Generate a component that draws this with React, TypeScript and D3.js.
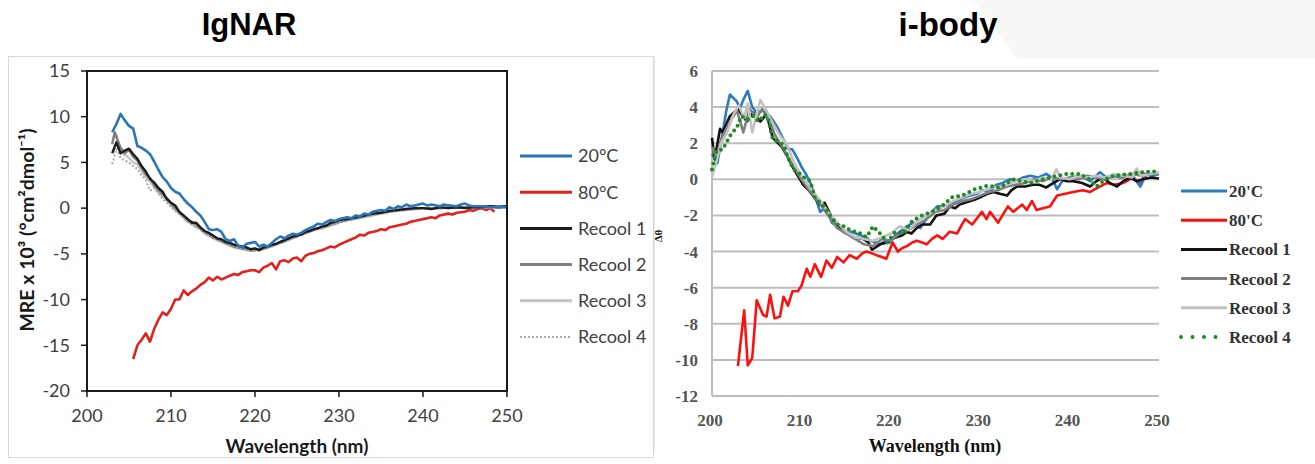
import React from "react";
import * as d3 from "d3";

// ---------- IgNAR (left) data: [wavelength nm, MRE x 10^3] ----------
const ignar20: [number, number][] = [[203,8.3],[203.5,9.2],[204,10.3],[204.5,9.6],[205,9.0],[205.5,8.7],[206,6.8],[206.5,6.6],[207,6.3],[207.5,5.9],[208,5.1],[208.5,4.2],[209,3.4],[209.5,2.9],[210,2.2],[210.5,1.8],[211,1.6],[211.5,1.0],[212,0.5],[212.5,0.1],[213,-0.4],[213.5,-0.8],[214,-1.5],[214.5,-2.3],[215,-2.4],[215.5,-2.3],[216,-2.6],[216.5,-3.4],[217,-3.6],[217.5,-3.4],[218,-4.1],[218.5,-4.3],[219,-3.9],[219.5,-3.8],[220,-3.7],[220.5,-4.2],[221,-4.0],[221.5,-4.2],[222,-3.8],[222.5,-3.4],[223,-3.1],[223.5,-3.3],[224,-3.0],[224.5,-2.8],[225,-2.9],[225.5,-2.7],[226,-2.4],[226.5,-2.2],[227,-2.0],[227.5,-1.7],[228,-1.8],[228.5,-1.5],[229,-1.3],[229.5,-1.4],[230,-1.2],[231,-1.0],[231.5,-1.1],[232,-0.8],[232.5,-0.9],[233,-0.6],[233.5,-0.7],[234,-0.4],[235,-0.2],[235.5,-0.3],[236,0.1],[236.5,-0.1],[237,0.2],[237.5,0.1],[238,0.4],[238.5,0.2],[239,0.3],[240,0.5],[240.5,0.3],[241,0.4],[242,0.2],[242.5,0.4],[243,0.3],[244,0.2],[244.5,0.4],[245,0.5],[245.5,0.3],[246,0.2],[247,0.2],[248,0.1],[249,0.1],[250,0.1]];
const ignar80: [number, number][] = [[205.5,-16.5],[206,-15.0],[206.5,-14.4],[207,-13.7],[207.5,-14.6],[208,-13.2],[208.5,-12.2],[209,-11.4],[209.5,-11.7],[210,-11.0],[210.5,-10.0],[211,-10.0],[211.5,-9.0],[212,-9.5],[212.5,-9.1],[213,-8.8],[213.5,-8.4],[214,-8.1],[214.5,-7.6],[215,-7.9],[215.5,-7.5],[216,-7.8],[216.5,-7.6],[217,-7.4],[217.5,-7.2],[218,-7.3],[218.5,-7.0],[219,-6.9],[219.5,-6.8],[220,-6.8],[220.5,-7.0],[221,-6.5],[221.5,-6.3],[222,-6.0],[222.5,-6.7],[223,-5.8],[223.5,-5.7],[224,-5.9],[224.5,-5.5],[225,-5.4],[225.5,-5.8],[226,-5.2],[226.5,-5.0],[227,-4.9],[227.5,-4.7],[228,-4.6],[228.5,-4.4],[229,-4.2],[229.5,-4.3],[230,-4.0],[230.5,-3.8],[231,-3.6],[231.5,-3.4],[232,-3.2],[232.5,-2.9],[233,-3.0],[233.5,-2.7],[234,-2.6],[234.5,-2.5],[235,-2.3],[235.5,-2.4],[236,-2.1],[236.5,-2.0],[237,-1.9],[237.5,-1.8],[238,-1.7],[238.5,-1.5],[239,-1.4],[239.5,-1.3],[240,-1.2],[241,-1.0],[241.5,-1.1],[242,-0.8],[243,-0.6],[243.5,-0.7],[244,-0.5],[245,-0.4],[245.5,-0.2],[246,-0.3],[246.5,-0.1],[247,0.0],[247.5,-0.2],[248,0.0],[248.5,-0.4]];
const ignarR1: [number, number][] = [[203,6.0],[203.5,7.2],[204,6.0],[204.5,6.3],[205,6.5],[205.5,5.9],[206,5.4],[206.5,4.6],[207,4.0],[207.5,3.2],[208,2.8],[208.5,2.2],[209,1.8],[209.5,1.0],[210,0.6],[210.5,0.3],[211,-0.4],[211.5,-0.8],[212,-1.2],[212.5,-1.6],[213,-1.6],[213.5,-2.1],[214,-2.5],[214.5,-2.7],[215,-3.0],[215.5,-3.3],[216,-3.4],[216.5,-3.7],[217,-3.8],[217.5,-4.0],[218,-4.1],[218.5,-4.2],[219,-4.3],[219.5,-4.5],[220,-4.4],[220.5,-4.6],[221,-4.3],[221.5,-4.2],[222,-4.0],[222.5,-3.9],[223,-3.7],[223.5,-3.5],[224,-3.3],[224.5,-3.1],[225,-3.0],[225.5,-2.9],[226,-2.6],[226.5,-2.5],[227,-2.3],[227.5,-2.2],[228,-2.0],[228.5,-1.9],[229,-1.6],[229.5,-1.5],[230,-1.3],[231,-1.2],[232,-1.0],[233,-0.8],[234,-0.6],[235,-0.5],[236,-0.3],[237,-0.2],[238,-0.1],[239,0.0],[240,0.0],[241,-0.1],[242,0.1],[243,0.0],[244,0.1],[245,0.0],[246,0.1],[247,0.1],[248,0.2],[249,0.1],[250,0.2]];
const ignarR2: [number, number][] = [[203,7.0],[203.3,8.3],[204,6.6],[204.5,6.0],[205,6.4],[205.5,5.6],[206,5.2],[206.5,4.4],[207,3.7],[207.5,3.3],[208,2.5],[208.5,2.0],[209,1.5],[209.5,1.1],[210,0.5],[210.5,0.0],[211,-0.5],[211.5,-0.9],[212,-1.4],[212.5,-1.5],[213,-1.9],[213.5,-2.2],[214,-2.6],[214.5,-2.9],[215,-3.2],[215.5,-3.4],[216,-3.6],[216.5,-3.8],[217,-4.0],[217.5,-4.2],[218,-4.3],[218.5,-4.4],[219,-4.5],[219.5,-4.6],[220,-4.6],[220.5,-4.5],[221,-4.4],[221.5,-4.3],[222,-4.1],[222.5,-3.9],[223,-3.8],[223.5,-3.6],[224,-3.4],[224.5,-3.2],[225,-3.1],[225.5,-2.8],[226,-2.7],[226.5,-2.5],[227,-2.4],[227.5,-2.2],[228,-2.1],[229,-1.8],[230,-1.5],[231,-1.3],[232,-1.1],[233,-0.9],[234,-0.7],[235,-0.5],[236,-0.4],[237,-0.2],[238,-0.1],[239,-0.1],[240,0.0],[242,0.0],[244,0.1],[246,0.1],[248,0.2],[250,0.2]];
const ignarR3: [number, number][] = [[203,7.5],[203.5,8.0],[204,6.2],[204.5,5.8],[205,5.5],[205.5,5.0],[206,4.8],[206.5,4.1],[207,3.4],[207.5,2.9],[208,2.3],[208.5,1.7],[209,1.3],[209.5,0.8],[210,0.3],[210.5,-0.2],[211,-0.6],[211.5,-1.0],[212,-1.5],[212.5,-1.8],[213,-2.1],[213.5,-2.3],[214,-2.8],[214.5,-3.0],[215,-3.3],[215.5,-3.5],[216,-3.7],[216.5,-3.9],[217,-4.1],[217.5,-4.3],[218,-4.4],[218.5,-4.5],[219,-4.6],[219.5,-4.7],[220,-4.6],[220.5,-4.6],[221,-4.5],[221.5,-4.3],[222,-4.2],[222.5,-4.0],[223,-3.8],[223.5,-3.7],[224,-3.5],[224.5,-3.3],[225,-3.1],[225.5,-2.9],[226,-2.8],[226.5,-2.6],[227,-2.4],[227.5,-2.3],[228,-2.2],[229,-1.9],[230,-1.6],[231,-1.3],[232,-1.2],[233,-1.0],[234,-0.8],[235,-0.6],[236,-0.4],[237,-0.3],[238,-0.2],[239,-0.1],[240,0.0],[242,0.0],[244,0.0],[246,0.1],[248,0.1],[250,0.1]];
const ignarR4: [number, number][] = [[203,4.8],[203.5,6.5],[204,5.5],[204.5,5.2],[205,5.0],[205.5,4.6],[206,4.3],[206.5,3.6],[207,3.1],[207.5,1.9],[208,2.2],[208.5,1.6],[209,1.0],[209.5,0.6],[210,0.1],[210.5,-0.3],[211,-0.7],[211.5,-1.1],[212,-1.5],[212.5,-1.8],[213,-2.0],[213.5,-2.4],[214,-2.7],[214.5,-3.0],[215,-3.2],[215.5,-3.5],[216,-3.7],[216.5,-3.9],[217,-4.1],[217.5,-4.2],[218,-4.4],[218.5,-4.5],[219,-4.5],[219.5,-4.6],[220,-4.6],[220.5,-4.5],[221,-4.4],[221.5,-4.3],[222,-4.1],[222.5,-4.0],[223,-3.8],[223.5,-3.6],[224,-3.4],[224.5,-3.2],[225,-3.0],[225.5,-2.9],[226,-2.7],[226.5,-2.6],[227,-2.4],[227.5,-2.2],[228,-2.1],[229,-1.8],[230,-1.5],[231,-1.3],[232,-1.1],[233,-0.9],[234,-0.7],[235,-0.5],[236,-0.4],[237,-0.3],[238,-0.2],[239,-0.1],[240,0.0],[242,0.0],[244,0.1],[246,0.1],[248,0.1],[250,0.2]];

// ---------- i-body (right) data: [wavelength nm, Δθ] ----------
const ibody20: [number, number][] = [[200,1.4],[200.6,0.9],[201.2,2.6],[201.6,3.8],[202,4.7],[202.8,4.3],[203.1,3.9],[203.5,4.4],[204,4.9],[204.5,4.0],[205,3.7],[205.7,3.8],[206.5,3.5],[207.3,2.9],[208,2.2],[208.5,1.7],[209,1.65],[209.5,1.2],[210,0.7],[210.5,0.3],[211,-0.2],[211.5,-0.9],[212.1,-1.8],[212.8,-1.55],[213.4,-2.4],[214,-2.6],[214.5,-2.8],[215,-3.0],[215.6,-2.9],[216.1,-3.0],[216.6,-3.1],[217.2,-3.2],[217.7,-3.4],[218.3,-3.5],[218.8,-3.6],[219.4,-3.4],[219.9,-3.5],[220.5,-3.1],[221,-2.9],[221.8,-2.6],[222.5,-2.4],[223.3,-2.7],[224,-2.2],[224.6,-1.8],[225.2,-1.5],[225.8,-1.5],[226.6,-1.4],[227.4,-1.2],[228.2,-1.0],[228.9,-0.9],[229.6,-0.8],[230.3,-0.6],[231,-0.7],[231.8,-0.3],[232.5,-0.2],[233.3,0.0],[234,-0.1],[234.8,0.1],[235.6,0.2],[236.5,0.1],[237.4,0.3],[238,0.1],[238.6,-0.55],[239.3,0.0],[240.2,0.1],[241.2,0.2],[242.3,-0.1],[243.4,0.4],[244.1,0.1],[244.9,0.2],[245.7,0.1],[246.4,0.2],[247.2,0.1],[247.9,-0.4],[248.6,0.3],[249.3,0.2],[250,0.3]];
const ibody80: [number, number][] = [[202.9,-10.35],[203.6,-7.25],[204,-10.3],[204.5,-9.9],[205,-6.7],[205.7,-7.5],[206.1,-7.6],[206.5,-6.4],[207,-7.7],[207.6,-7.6],[208,-6.5],[208.5,-7.0],[209,-6.2],[209.6,-6.2],[210,-5.9],[210.6,-4.95],[211,-5.4],[211.5,-4.7],[212.2,-5.4],[212.8,-4.5],[213.4,-4.9],[214,-4.3],[214.7,-4.6],[215.4,-4.2],[216.2,-4.4],[216.8,-4.1],[217.3,-4.0],[217.9,-4.1],[218.4,-4.2],[219,-4.3],[219.5,-4.4],[220.2,-3.5],[220.8,-4.0],[221.3,-3.8],[221.8,-3.7],[222.4,-3.5],[222.9,-3.4],[223.5,-3.5],[224,-3.6],[224.6,-3.3],[225.2,-3.1],[225.8,-3.3],[226.6,-2.9],[227.4,-3.0],[228.3,-2.2],[229.1,-2.5],[230.2,-1.8],[230.7,-2.2],[231.1,-1.8],[232,-2.4],[233.1,-1.5],[233.7,-1.8],[234.7,-1.4],[235.2,-1.7],[235.8,-1.2],[236.3,-1.7],[237,-1.6],[237.8,-1.5],[238.6,-0.9],[239.5,-0.8],[240.4,-0.7],[241.5,-0.6],[242.3,-0.7],[243.2,-0.45],[244.2,-0.2],[245,-0.3],[246,-0.2],[247.1,0.1],[247.9,-0.3],[248.4,0.3],[248.6,0.0]];
const ibodyR1: [number, number][] = [[200,2.3],[200.3,1.1],[200.9,2.8],[201.2,2.6],[202,3.5],[202.9,3.9],[203.9,3.2],[204.6,3.7],[205.4,3.2],[206.1,3.6],[206.8,2.3],[207.8,1.8],[208.4,1.3],[209,0.7],[209.6,0.2],[210.2,-0.3],[210.8,-0.6],[211.3,-0.9],[212.1,-1.4],[212.6,-1.3],[213.5,-2.2],[214.1,-2.5],[214.7,-2.9],[215.3,-3.0],[215.8,-3.2],[216.9,-3.3],[217.5,-3.5],[217.9,-3.9],[218.8,-3.6],[219.6,-3.5],[220.2,-3.3],[220.7,-3.2],[221.3,-3.1],[221.8,-2.9],[222.3,-3.0],[222.9,-2.7],[223.5,-2.5],[224.4,-2.5],[225.1,-2.0],[226,-1.9],[226.6,-1.5],[227.2,-1.6],[227.7,-1.4],[228.3,-1.3],[228.9,-1.2],[229.5,-1.1],[230,-1.0],[230.8,-0.8],[231.5,-0.7],[232.2,-0.8],[233,-0.9],[233.5,-0.6],[234.1,-0.4],[235,-0.4],[235.9,-0.3],[236.6,-0.3],[237.4,-0.45],[238.2,-0.2],[238.9,0.0],[239.7,-0.1],[240.4,-0.1],[241.4,-0.2],[242.3,-0.4],[243,-0.1],[243.7,0.1],[244.5,-0.2],[245.3,-0.4],[246,-0.1],[246.8,0.1],[247.5,-0.1],[248.2,0.0],[249.1,0.1],[250,0.05]];
const ibodyR2: [number, number][] = [[200,1.8],[200.5,1.2],[201,2.2],[202,3.2],[202.8,3.8],[203.5,2.6],[204.2,3.9],[205,3.4],[205.6,3.9],[206.4,3.3],[207,2.5],[208,1.7],[209,0.8],[210,0.0],[211,-0.7],[212,-1.3],[213,-2.0],[214,-2.7],[215,-3.0],[216,-3.3],[217,-3.6],[218,-3.7],[219,-3.3],[220,-3.4],[221,-3.0],[222,-2.8],[223,-2.5],[224,-2.2],[225,-1.8],[226,-1.7],[227,-1.4],[228,-1.2],[229,-1.1],[230,-0.9],[231,-0.7],[232,-0.6],[233,-0.4],[234,-0.3],[235,-0.2],[236,0.0],[237,-0.1],[238,0.1],[239,0.0],[240,0.1],[241,0.0],[242,0.2],[243,0.1],[244,0.0],[245,0.2],[246,0.1],[247,0.3],[248,0.2],[249,0.3],[250,0.3]];
const ibodyR3: [number, number][] = [[200,0.1],[200.5,1.0],[201,2.0],[201.6,2.5],[202.4,3.6],[203,4.1],[203.6,3.4],[204,4.2],[204.5,2.6],[205.4,4.4],[206,3.9],[206.8,3.1],[207.5,2.5],[208.4,1.9],[209.2,0.9],[210,0.2],[211,-0.5],[212,-1.1],[213,-1.8],[214,-2.4],[215,-2.9],[216,-3.2],[217,-3.3],[218,-3.4],[219,-3.2],[220,-3.0],[221,-2.6],[222,-2.8],[223,-2.3],[224,-2.0],[225,-1.7],[226,-1.5],[227,-1.2],[228,-1.0],[229,-0.8],[230,-0.7],[231,-0.5],[232,-0.4],[233,-0.3],[234,-0.1],[235,0.0],[236,-0.1],[237,0.1],[238,0.0],[238.5,0.55],[239,0.1],[240,0.0],[241,0.2],[242,0.1],[243,0.2],[244,0.1],[245,0.3],[246,0.2],[247,0.1],[247.5,0.6],[248,0.2],[249,0.3],[250,0.4]];
const ibodyR4: [number, number][] = [[200,0.55],[200.5,1.6],[201.2,1.65],[202,2.4],[202.8,2.9],[203.3,3.5],[204,3.3],[204.6,3.5],[205.2,3.2],[205.9,3.6],[206.3,3.3],[206.8,2.2],[207.4,2.1],[208,1.9],[208.5,1.2],[209.1,0.55],[209.6,0.4],[210.3,0.1],[211,-0.1],[211.5,-1.0],[212.1,-1.3],[212.7,-1.6],[213.2,-2.0],[214,-2.5],[214.7,-2.6],[215.4,-2.8],[216,-2.9],[216.6,-3.0],[217.3,-3.2],[218,-2.6],[219,-3.1],[219.6,-3.5],[220.5,-2.9],[221.4,-3.0],[222.4,-2.3],[223.5,-2.0],[224.6,-1.8],[225.7,-1.5],[226.8,-1.0],[228,-0.9],[229.4,-0.55],[230.8,-0.35],[232.2,-0.45],[233.7,0.0],[235.6,-0.2],[237.8,0.1],[239.7,0.3],[241.2,0.3],[242.2,0.0],[243,-0.4],[244,0.0],[244.9,0.2],[246.8,0.3],[248.2,0.4],[250,0.45]];

const leftYTicks = [15, 10, 5, 0, -5, -10, -15, -20];
const leftXTicks = [200, 210, 220, 230, 240, 250];
const rightYTicks = [6, 4, 2, 0, -2, -4, -6, -8, -10, -12];
const rightXTicks = [200, 210, 220, 230, 240, 250];

const leftLegend = ["20°C", "80°C", "Recool 1", "Recool 2", "Recool 3", "Recool 4"];
const rightLegend = ["20'C", "80'C", "Recool 1", "Recool 2", "Recool 3", "Recool 4"];

type Style = { color: string; width: number; dash?: string; cap?: string };

const leftStyles: Style[] = [
  { color: "#2a74b8", width: 2.6 },
  { color: "#e3211f", width: 2.6 },
  { color: "#1c1c1c", width: 2.4 },
  { color: "#7f7f7f", width: 2.4 },
  { color: "#c4c4c4", width: 2.4 },
  { color: "#a8a8a8", width: 2, dash: "2 2" },
];
const rightStyles: Style[] = [
  { color: "#2c7bc0", width: 2.6 },
  { color: "#ff1010", width: 2.6 },
  { color: "#111111", width: 2.6 },
  { color: "#808080", width: 2.6 },
  { color: "#c2c2c2", width: 2.6 },
  { color: "#1f8b24", width: 4, dash: "0 6", cap: "round" },
];

const leftSeries = [ignar20, ignar80, ignarR1, ignarR2, ignarR3, ignarR4];
const rightSeries = [ibody20, ibody80, ibodyR1, ibodyR2, ibodyR3, ibodyR4];
const leftOrder = [1, 4, 3, 5, 2, 0];
const rightOrder = [1, 0, 2, 3, 4, 5];

export default function App() {
  const lx = d3.scaleLinear().domain([200, 250]).range([87, 507]);
  const ly = d3.scaleLinear().domain([-20, 15]).range([391, 71]);
  const rx = d3.scaleLinear().domain([200, 250]).range([712, 1159]);
  const ry = d3.scaleLinear().domain([-12, 6]).range([396, 71]);

  const lLine = d3.line<[number, number]>().x((d) => lx(d[0])).y((d) => ly(d[1]));
  const rLine = d3.line<[number, number]>().x((d) => rx(d[0])).y((d) => ry(d[1]));

  const leftFont = "Lato, 'Open Sans', sans-serif";
  const rightFont = "'Liberation Serif', 'DejaVu Serif', serif";

  const lLegY = d3.scaleLinear().domain([0, 5]).range([156, 337]);
  const rLegY = d3.scaleLinear().domain([0, 5]).range([191, 337]);

  return (
    <svg
      width={1315}
      height={464}
      style={{ position: "absolute", left: 0, top: 0, background: "#fff" }}
    >
      <polygon points="973,0 1315,0 1315,59 1017,59" fill="#f8f8f7" />

      <text x={249} y={35} textAnchor="middle" fontFamily="'Liberation Sans', Arial, sans-serif" fontWeight="bold" fontSize={31} fill="#000">IgNAR</text>
      <text x={948} y={36} textAnchor="middle" fontFamily="'Liberation Sans', Arial, sans-serif" fontWeight="bold" fontSize={33} fill="#000">i-body</text>

      {/* ---------- LEFT CHART ---------- */}
      <rect x={8.5} y={56.5} width={645} height={401} fill="none" stroke="#d9d9d9" strokeWidth={1} />

      {leftOrder.map((i) => {
        const s = leftStyles[i];
        return (
          <path
            key={"l" + i}
            d={lLine(leftSeries[i]) || ""}
            fill="none"
            stroke={s.color}
            strokeWidth={s.width}
            strokeDasharray={s.dash}
            strokeLinejoin="round"
          />
        );
      })}

      <rect x={lx(200)} y={ly(15)} width={lx(250) - lx(200)} height={ly(-20) - ly(15)} fill="none" stroke="#1a1a1a" strokeWidth={2} />
      {leftYTicks.map((t) => (
        <g key={"ly" + t}>
          <line x1={lx(200) - 6} x2={lx(200)} y1={ly(t)} y2={ly(t)} stroke="#1a1a1a" strokeWidth={1.5} />
          <text x={lx(200) - 17} y={ly(t)} dy="0.35em" textAnchor="end" fontFamily={leftFont} fontSize={18} fill="#404040">{t}</text>
        </g>
      ))}
      {leftXTicks.map((t) => (
        <g key={"lx" + t}>
          <line x1={lx(t)} x2={lx(t)} y1={ly(-20)} y2={ly(-20) + 6} stroke="#1a1a1a" strokeWidth={1.5} />
          <text x={lx(t)} y={ly(-20) + 31} textAnchor="middle" fontFamily={leftFont} fontSize={18} fill="#404040">{t}</text>
        </g>
      ))}
      <text x={297} y={453} textAnchor="middle" fontFamily={leftFont} fontWeight="bold" fontSize={19} fill="#1a1a1a">Wavelength (nm)</text>
      <text transform="translate(34,230) rotate(-90)" textAnchor="middle" fontFamily={leftFont} fontWeight="bold" fontSize={19.5} fill="#1a1a1a">
        MRE x 10³ (°cm²dmol⁻¹)
      </text>

      {leftLegend.map((name, i) => {
        const s = leftStyles[i];
        const y = lLegY(i);
        return (
          <g key={"lleg" + i}>
            <line x1={520} x2={572} y1={y} y2={y} stroke={s.color} strokeWidth={s.dash ? 2 : 3} strokeDasharray={s.dash} />
            <text x={578} y={y} dy="0.35em" fontFamily={leftFont} fontSize={18} fill="#404040">{name}</text>
          </g>
        );
      })}

      {/* ---------- RIGHT CHART ---------- */}
      <line x1={654} x2={654} y1={57} y2={452} stroke="#d0d0d0" strokeWidth={1} />
      {rightYTicks.map((t) => (
        <g key={"ry" + t}>
          <line x1={rx(200)} x2={rx(250)} y1={ry(t)} y2={ry(t)} stroke="#bdbdbd" strokeWidth={2} />
          <text x={rx(200) - 14} y={ry(t)} dy="0.35em" textAnchor="end" fontFamily={rightFont} fontWeight="bold" fontSize={17} fill="#555">{t}</text>
        </g>
      ))}
      <line x1={rx(200)} x2={rx(200)} y1={ry(6)} y2={ry(-12)} stroke="#bdbdbd" strokeWidth={2} />
      {rightXTicks.map((t) => (
        <text key={"rx" + t} x={rx(t) - 2} y={426} textAnchor="middle" fontFamily={rightFont} fontWeight="bold" fontSize={17} fill="#555">{t}</text>
      ))}
      <text x={935} y={452} textAnchor="middle" fontFamily={rightFont} fontWeight="bold" fontSize={18} fill="#111">Wavelength (nm)</text>
      <text transform="translate(662,236) rotate(-90)" textAnchor="middle" fontFamily={rightFont} fontWeight="bold" fontSize={11} fill="#222">Δθ</text>

      {rightOrder.map((i) => {
        const s = rightStyles[i];
        return (
          <path
            key={"r" + i}
            d={rLine(rightSeries[i]) || ""}
            fill="none"
            stroke={s.color}
            strokeWidth={s.width}
            strokeDasharray={s.dash}
            strokeLinecap={(s.cap as any) || "butt"}
            strokeLinejoin="round"
          />
        );
      })}

      {rightLegend.map((name, i) => {
        const s = rightStyles[i];
        const y = rLegY(i);
        return (
          <g key={"rleg" + i}>
            <line x1={1181} x2={1227} y1={y} y2={y} stroke={s.color} strokeWidth={s.dash ? 4 : 3} strokeDasharray={s.dash ? "0 11.5" : undefined} strokeLinecap={(s.cap as any) || "butt"} />
            <text x={1229} y={y} dy="0.35em" fontFamily={rightFont} fontWeight="bold" fontSize={17} fill="#333">{name}</text>
          </g>
        );
      })}
    </svg>
  );
}
